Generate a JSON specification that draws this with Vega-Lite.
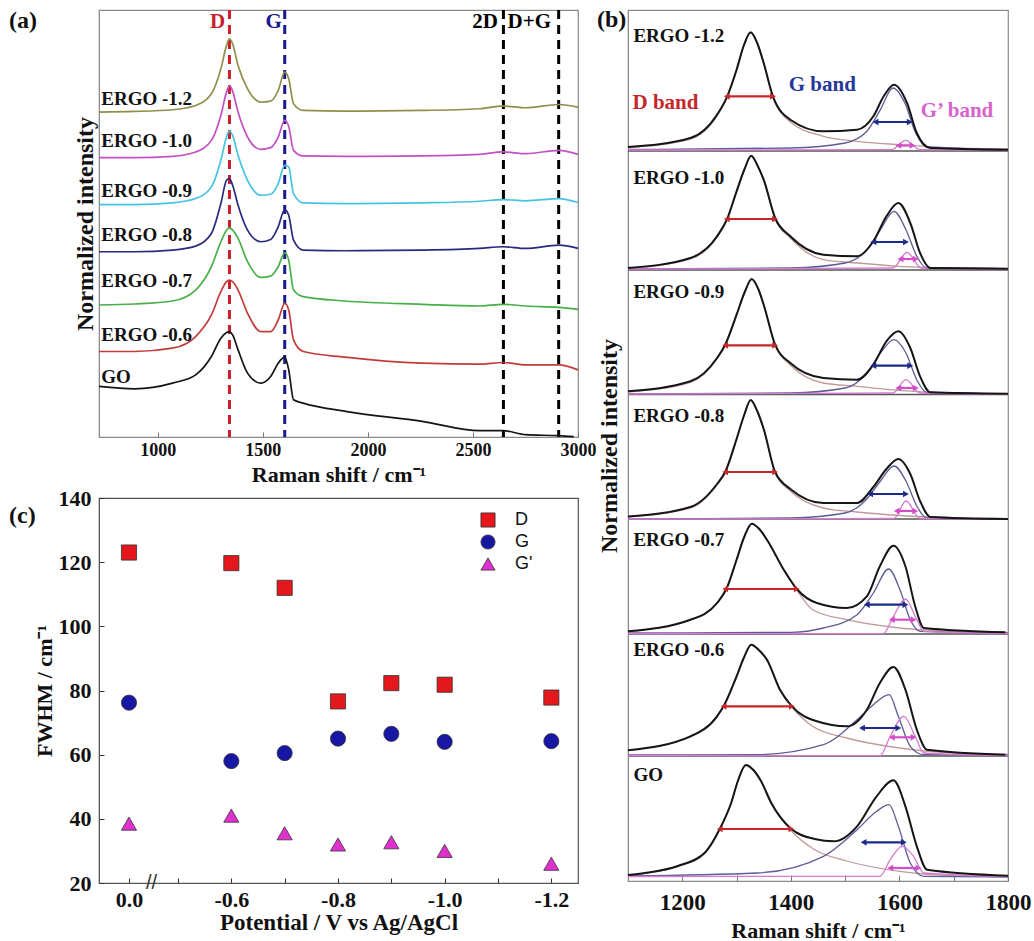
{
"$schema": "https://vega.github.io/schema/vega-lite/v6.json",
"padding": {"left": 8, "top": 7, "right": 0, "bottom": 0},
"background": "white",
"spacing": -1,
"resolve": {"scale": {"color": "independent", "shape": "independent"}},
"config": {
  "view": {"stroke": "#8a8a8a", "strokeWidth": 1.2},
  "axis": {"grid": false, "labelFont": "Liberation Serif", "labelFontWeight": "bold", "labelColor": "#111", "titleFont": "Liberation Serif", "titleFontWeight": "bold", "titleColor": "#111", "domainColor": "#8a8a8a", "tickColor": "#777"},
  "title": {"font": "Liberation Serif", "fontWeight": "bold", "fontSize": 24, "color": "#111"}
},
"datasets": {
  "alines": [
    {"s":"ERGO -1.2","x":720,"y":325.7},{"s":"ERGO -1.2","x":890,"y":326.3},{"s":"ERGO -1.2","x":1070,"y":328},{"s":"ERGO -1.2","x":1180,"y":332.3},{"s":"ERGO -1.2","x":1255,"y":344},{"s":"ERGO -1.2","x":1300,"y":369},{"s":"ERGO -1.2","x":1327,"y":392.3},{"s":"ERGO -1.2","x":1341,"y":399},{"s":"ERGO -1.2","x":1356,"y":394},{"s":"ERGO -1.2","x":1382,"y":372.3},{"s":"ERGO -1.2","x":1427,"y":349},{"s":"ERGO -1.2","x":1490,"y":335.7},{"s":"ERGO -1.2","x":1537,"y":336.7},{"s":"ERGO -1.2","x":1573,"y":347.3},{"s":"ERGO -1.2","x":1604,"y":365.7},{"s":"ERGO -1.2","x":1623,"y":359},{"s":"ERGO -1.2","x":1646,"y":334},{"s":"ERGO -1.2","x":1692,"y":327.3},{"s":"ERGO -1.2","x":1893,"y":326.7},{"s":"ERGO -1.2","x":2258,"y":327.3},{"s":"ERGO -1.2","x":2532,"y":329},{"s":"ERGO -1.2","x":2643,"y":331.7},{"s":"ERGO -1.2","x":2751,"y":330},{"s":"ERGO -1.2","x":2908,"y":333.3},{"s":"ERGO -1.2","x":3000,"y":330.7},
    {"s":"ERGO -1.0","x":720,"y":280},{"s":"ERGO -1.0","x":890,"y":280},{"s":"ERGO -1.0","x":1070,"y":281.3},{"s":"ERGO -1.0","x":1180,"y":285.7},{"s":"ERGO -1.0","x":1255,"y":297.3},{"s":"ERGO -1.0","x":1300,"y":322.3},{"s":"ERGO -1.0","x":1327,"y":345.7},{"s":"ERGO -1.0","x":1341,"y":352.3},{"s":"ERGO -1.0","x":1356,"y":346.7},{"s":"ERGO -1.0","x":1382,"y":325.7},{"s":"ERGO -1.0","x":1427,"y":300.7},{"s":"ERGO -1.0","x":1490,"y":288.3},{"s":"ERGO -1.0","x":1537,"y":290},{"s":"ERGO -1.0","x":1573,"y":300.7},{"s":"ERGO -1.0","x":1604,"y":317.3},{"s":"ERGO -1.0","x":1623,"y":311.3},{"s":"ERGO -1.0","x":1646,"y":287.3},{"s":"ERGO -1.0","x":1692,"y":281.7},{"s":"ERGO -1.0","x":1893,"y":281.3},{"s":"ERGO -1.0","x":2258,"y":281.7},{"s":"ERGO -1.0","x":2532,"y":283.3},{"s":"ERGO -1.0","x":2643,"y":285.7},{"s":"ERGO -1.0","x":2751,"y":284},{"s":"ERGO -1.0","x":2908,"y":287.3},{"s":"ERGO -1.0","x":3000,"y":283.3},
    {"s":"ERGO -0.9","x":720,"y":233},{"s":"ERGO -0.9","x":890,"y":233},{"s":"ERGO -0.9","x":1070,"y":234.7},{"s":"ERGO -0.9","x":1180,"y":239},{"s":"ERGO -0.9","x":1255,"y":250.7},{"s":"ERGO -0.9","x":1300,"y":277.3},{"s":"ERGO -0.9","x":1327,"y":300.7},{"s":"ERGO -0.9","x":1341,"y":306.7},{"s":"ERGO -0.9","x":1356,"y":302.3},{"s":"ERGO -0.9","x":1382,"y":282.3},{"s":"ERGO -0.9","x":1427,"y":257.3},{"s":"ERGO -0.9","x":1490,"y":242.3},{"s":"ERGO -0.9","x":1537,"y":243.3},{"s":"ERGO -0.9","x":1573,"y":254},{"s":"ERGO -0.9","x":1604,"y":272.3},{"s":"ERGO -0.9","x":1623,"y":270.7},{"s":"ERGO -0.9","x":1646,"y":244},{"s":"ERGO -0.9","x":1692,"y":234.7},{"s":"ERGO -0.9","x":1893,"y":234},{"s":"ERGO -0.9","x":2258,"y":234.7},{"s":"ERGO -0.9","x":2532,"y":236.3},{"s":"ERGO -0.9","x":2643,"y":238},{"s":"ERGO -0.9","x":2751,"y":236.7},{"s":"ERGO -0.9","x":2908,"y":239},{"s":"ERGO -0.9","x":3000,"y":235},
    {"s":"ERGO -0.8","x":720,"y":185.7},{"s":"ERGO -0.8","x":890,"y":185.7},{"s":"ERGO -0.8","x":1070,"y":187.3},{"s":"ERGO -0.8","x":1180,"y":191.3},{"s":"ERGO -0.8","x":1255,"y":204},{"s":"ERGO -0.8","x":1300,"y":234},{"s":"ERGO -0.8","x":1327,"y":257.3},{"s":"ERGO -0.8","x":1341,"y":259},{"s":"ERGO -0.8","x":1356,"y":252.3},{"s":"ERGO -0.8","x":1382,"y":232.3},{"s":"ERGO -0.8","x":1427,"y":207.3},{"s":"ERGO -0.8","x":1490,"y":195.7},{"s":"ERGO -0.8","x":1537,"y":198},{"s":"ERGO -0.8","x":1573,"y":210.7},{"s":"ERGO -0.8","x":1604,"y":228},{"s":"ERGO -0.8","x":1623,"y":222.3},{"s":"ERGO -0.8","x":1646,"y":197.3},{"s":"ERGO -0.8","x":1692,"y":187.3},{"s":"ERGO -0.8","x":1893,"y":186.7},{"s":"ERGO -0.8","x":2258,"y":187.3},{"s":"ERGO -0.8","x":2532,"y":189},{"s":"ERGO -0.8","x":2643,"y":190.7},{"s":"ERGO -0.8","x":2751,"y":189},{"s":"ERGO -0.8","x":2908,"y":192.3},{"s":"ERGO -0.8","x":3000,"y":189},
    {"s":"ERGO -0.7","x":720,"y":132.3},{"s":"ERGO -0.7","x":890,"y":133.3},{"s":"ERGO -0.7","x":1070,"y":136.3},{"s":"ERGO -0.7","x":1180,"y":147.3},{"s":"ERGO -0.7","x":1255,"y":170.7},{"s":"ERGO -0.7","x":1300,"y":195.7},{"s":"ERGO -0.7","x":1327,"y":207.3},{"s":"ERGO -0.7","x":1341,"y":209.7},{"s":"ERGO -0.7","x":1356,"y":207.3},{"s":"ERGO -0.7","x":1382,"y":199},{"s":"ERGO -0.7","x":1427,"y":175.7},{"s":"ERGO -0.7","x":1490,"y":160},{"s":"ERGO -0.7","x":1537,"y":161.3},{"s":"ERGO -0.7","x":1573,"y":170.7},{"s":"ERGO -0.7","x":1604,"y":184.7},{"s":"ERGO -0.7","x":1623,"y":177.3},{"s":"ERGO -0.7","x":1646,"y":147.3},{"s":"ERGO -0.7","x":1692,"y":140.7},{"s":"ERGO -0.7","x":1893,"y":136.3},{"s":"ERGO -0.7","x":2258,"y":133},{"s":"ERGO -0.7","x":2532,"y":131.3},{"s":"ERGO -0.7","x":2643,"y":133},{"s":"ERGO -0.7","x":2751,"y":131.3},{"s":"ERGO -0.7","x":2908,"y":130},{"s":"ERGO -0.7","x":3000,"y":128},
    {"s":"ERGO -0.6","x":720,"y":85.7},{"s":"ERGO -0.6","x":890,"y":85.7},{"s":"ERGO -0.6","x":1070,"y":89},{"s":"ERGO -0.6","x":1180,"y":100.7},{"s":"ERGO -0.6","x":1255,"y":122.3},{"s":"ERGO -0.6","x":1300,"y":145.7},{"s":"ERGO -0.6","x":1327,"y":155.7},{"s":"ERGO -0.6","x":1341,"y":157.3},{"s":"ERGO -0.6","x":1356,"y":155.7},{"s":"ERGO -0.6","x":1382,"y":147.3},{"s":"ERGO -0.6","x":1427,"y":124},{"s":"ERGO -0.6","x":1490,"y":105.7},{"s":"ERGO -0.6","x":1537,"y":105.7},{"s":"ERGO -0.6","x":1573,"y":117.3},{"s":"ERGO -0.6","x":1604,"y":134},{"s":"ERGO -0.6","x":1623,"y":127.3},{"s":"ERGO -0.6","x":1646,"y":97.3},{"s":"ERGO -0.6","x":1692,"y":85.7},{"s":"ERGO -0.6","x":1893,"y":80},{"s":"ERGO -0.6","x":2258,"y":74},{"s":"ERGO -0.6","x":2532,"y":73},{"s":"ERGO -0.6","x":2643,"y":74.7},{"s":"ERGO -0.6","x":2751,"y":72.3},{"s":"ERGO -0.6","x":2908,"y":72.3},{"s":"ERGO -0.6","x":3000,"y":67.3},
    {"s":"GO","x":720,"y":50.7},{"s":"GO","x":890,"y":48.3},{"s":"GO","x":1070,"y":54},{"s":"GO","x":1180,"y":62.3},{"s":"GO","x":1255,"y":80.7},{"s":"GO","x":1300,"y":99},{"s":"GO","x":1327,"y":104.7},{"s":"GO","x":1341,"y":105.7},{"s":"GO","x":1356,"y":102.3},{"s":"GO","x":1382,"y":87.3},{"s":"GO","x":1427,"y":64},{"s":"GO","x":1490,"y":54},{"s":"GO","x":1537,"y":60.7},{"s":"GO","x":1573,"y":74},{"s":"GO","x":1604,"y":80},{"s":"GO","x":1623,"y":67.3},{"s":"GO","x":1646,"y":37.3},{"s":"GO","x":1692,"y":34},{"s":"GO","x":1893,"y":25.7},{"s":"GO","x":2258,"y":15.7},{"s":"GO","x":2532,"y":6.3},{"s":"GO","x":2643,"y":6.3},{"s":"GO","x":2751,"y":2.3},{"s":"GO","x":2908,"y":1.3},{"s":"GO","x":2980,"y":0.3}
  ],
  "alabels": [
    {"t":"ERGO -1.2","x":731,"y":339},{"t":"ERGO -1.0","x":731,"y":297},{"t":"ERGO -0.9","x":731,"y":247},{"t":"ERGO -0.8","x":731,"y":202},{"t":"ERGO -0.7","x":731,"y":156},{"t":"ERGO -0.6","x":731,"y":102},{"t":"GO","x":731,"y":60}
  ],
  "vlines": [{"c":"D","x":1341},{"c":"G","x":1604},{"c":"2D","x":2645},{"c":"DG","x":2908}],
  "atop": [{"t":"D","c":"D","x":1285,"y":416},{"t":"G","c":"G","x":1551,"y":416},{"t":"2D","c":"2D","x":2558,"y":416},{"t":"D+G","c":"DG","x":2768,"y":416}],
  "fwhm": [
    {"pot":0,"w":123,"band":"D"},{"pot":-0.6,"w":119.7,"band":"D"},{"pot":-0.7,"w":112,"band":"D"},{"pot":-0.8,"w":76.6,"band":"D"},{"pot":-0.9,"w":82.3,"band":"D"},{"pot":-1.0,"w":81.8,"band":"D"},{"pot":-1.2,"w":77.8,"band":"D"},
    {"pot":0,"w":76.2,"band":"G"},{"pot":-0.6,"w":58,"band":"G"},{"pot":-0.7,"w":60.5,"band":"G"},{"pot":-0.8,"w":65,"band":"G"},{"pot":-0.9,"w":66.5,"band":"G"},{"pot":-1.0,"w":64,"band":"G"},{"pot":-1.2,"w":64.2,"band":"G"},
    {"pot":0,"w":38.5,"band":"G'"},{"pot":-0.6,"w":41,"band":"G'"},{"pot":-0.7,"w":35.5,"band":"G'"},{"pot":-0.8,"w":32,"band":"G'"},{"pot":-0.9,"w":32.7,"band":"G'"},{"pot":-1.0,"w":30,"band":"G'"},{"pot":-1.2,"w":26,"band":"G'"}
  ],
  "btotal": [
    {"p":"-1.2","x":1100,"y":732},{"p":"-1.2","x":1215,"y":741},{"p":"-1.2","x":1264,"y":764.3},{"p":"-1.2","x":1282,"y":781.7},{"p":"-1.2","x":1300,"y":809.3},{"p":"-1.2","x":1313,"y":833},{"p":"-1.2","x":1326,"y":846.7},{"p":"-1.2","x":1338,"y":836},{"p":"-1.2","x":1350,"y":816},{"p":"-1.2","x":1367,"y":782.7},{"p":"-1.2","x":1399,"y":759.3},{"p":"-1.2","x":1460,"y":747.7},{"p":"-1.2","x":1522,"y":749.3},{"p":"-1.2","x":1552,"y":762.7},{"p":"-1.2","x":1571,"y":782.7},{"p":"-1.2","x":1590,"y":794.3},{"p":"-1.2","x":1614,"y":776},{"p":"-1.2","x":1632,"y":746},{"p":"-1.2","x":1657,"y":731},{"p":"-1.2","x":1800,"y":729.3},
    {"p":"-1.0","x":1100,"y":611},{"p":"-1.0","x":1215,"y":621},{"p":"-1.0","x":1264,"y":642.7},{"p":"-1.0","x":1282,"y":659.3},{"p":"-1.0","x":1300,"y":687.7},{"p":"-1.0","x":1314,"y":709},{"p":"-1.0","x":1327,"y":723.3},{"p":"-1.0","x":1339,"y":713},{"p":"-1.0","x":1350,"y":699.3},{"p":"-1.0","x":1371,"y":661},{"p":"-1.0","x":1399,"y":642.7},{"p":"-1.0","x":1460,"y":624.3},{"p":"-1.0","x":1522,"y":622.7},{"p":"-1.0","x":1552,"y":637.7},{"p":"-1.0","x":1576,"y":662.7},{"p":"-1.0","x":1598,"y":676},{"p":"-1.0","x":1620,"y":656},{"p":"-1.0","x":1638,"y":626},{"p":"-1.0","x":1657,"y":611},{"p":"-1.0","x":1800,"y":610.3},
    {"p":"-0.9","x":1100,"y":487.7},{"p":"-0.9","x":1215,"y":497.7},{"p":"-0.9","x":1264,"y":521},{"p":"-0.9","x":1279,"y":534.3},{"p":"-0.9","x":1300,"y":564.3},{"p":"-0.9","x":1315,"y":587},{"p":"-0.9","x":1328,"y":600},{"p":"-0.9","x":1340,"y":590},{"p":"-0.9","x":1350,"y":574.3},{"p":"-0.9","x":1371,"y":534.3},{"p":"-0.9","x":1399,"y":516},{"p":"-0.9","x":1460,"y":501},{"p":"-0.9","x":1522,"y":499.3},{"p":"-0.9","x":1552,"y":514.3},{"p":"-0.9","x":1576,"y":537.7},{"p":"-0.9","x":1598,"y":547.7},{"p":"-0.9","x":1620,"y":531},{"p":"-0.9","x":1638,"y":502.7},{"p":"-0.9","x":1657,"y":486.7},{"p":"-0.9","x":1800,"y":485.3},
    {"p":"-0.8","x":1100,"y":362.5},{"p":"-0.8","x":1215,"y":372},{"p":"-0.8","x":1264,"y":395},{"p":"-0.8","x":1279,"y":407},{"p":"-0.8","x":1300,"y":440},{"p":"-0.8","x":1314,"y":464},{"p":"-0.8","x":1326,"y":479},{"p":"-0.8","x":1338,"y":468},{"p":"-0.8","x":1350,"y":450},{"p":"-0.8","x":1371,"y":407},{"p":"-0.8","x":1399,"y":390},{"p":"-0.8","x":1460,"y":376},{"p":"-0.8","x":1522,"y":376},{"p":"-0.8","x":1552,"y":392},{"p":"-0.8","x":1576,"y":410},{"p":"-0.8","x":1598,"y":420},{"p":"-0.8","x":1620,"y":405},{"p":"-0.8","x":1638,"y":378},{"p":"-0.8","x":1657,"y":362},{"p":"-0.8","x":1800,"y":360},
    {"p":"-0.7","x":1100,"y":247.7},{"p":"-0.7","x":1215,"y":259.3},{"p":"-0.7","x":1264,"y":276},{"p":"-0.7","x":1282,"y":291},{"p":"-0.7","x":1300,"y":319.3},{"p":"-0.7","x":1314,"y":342},{"p":"-0.7","x":1328,"y":355.3},{"p":"-0.7","x":1342,"y":350},{"p":"-0.7","x":1356,"y":339.3},{"p":"-0.7","x":1387,"y":309.3},{"p":"-0.7","x":1411,"y":290},{"p":"-0.7","x":1448,"y":276},{"p":"-0.7","x":1503,"y":271},{"p":"-0.7","x":1540,"y":282.7},{"p":"-0.7","x":1564,"y":312.7},{"p":"-0.7","x":1589,"y":333.3},{"p":"-0.7","x":1611,"y":312.7},{"p":"-0.7","x":1629,"y":272.7},{"p":"-0.7","x":1645,"y":251},{"p":"-0.7","x":1795,"y":246.7},
    {"p":"-0.6","x":1100,"y":128.7},{"p":"-0.6","x":1215,"y":142.7},{"p":"-0.6","x":1264,"y":162.7},{"p":"-0.6","x":1276,"y":172.7},{"p":"-0.6","x":1300,"y":202.7},{"p":"-0.6","x":1314,"y":222},{"p":"-0.6","x":1327,"y":234.3},{"p":"-0.6","x":1341,"y":229},{"p":"-0.6","x":1356,"y":219.3},{"p":"-0.6","x":1380,"y":189.3},{"p":"-0.6","x":1402,"y":172.7},{"p":"-0.6","x":1448,"y":157.7},{"p":"-0.6","x":1503,"y":152.7},{"p":"-0.6","x":1540,"y":169.3},{"p":"-0.6","x":1564,"y":196},{"p":"-0.6","x":1589,"y":212},{"p":"-0.6","x":1611,"y":189.3},{"p":"-0.6","x":1632,"y":149.3},{"p":"-0.6","x":1651,"y":129.3},{"p":"-0.6","x":1795,"y":124.3},
    {"p":"GO","x":1100,"y":4},{"p":"GO","x":1131,"y":6},{"p":"GO","x":1192,"y":13},{"p":"GO","x":1241,"y":26},{"p":"GO","x":1269,"y":50},{"p":"GO","x":1290,"y":76},{"p":"GO","x":1303,"y":99},{"p":"GO","x":1317,"y":114},{"p":"GO","x":1331,"y":109},{"p":"GO","x":1345,"y":98},{"p":"GO","x":1364,"y":76},{"p":"GO","x":1401,"y":50},{"p":"GO","x":1444,"y":40},{"p":"GO","x":1479,"y":37.7},{"p":"GO","x":1522,"y":52.7},{"p":"GO","x":1558,"y":82.7},{"p":"GO","x":1589,"y":98.7},{"p":"GO","x":1611,"y":72.7},{"p":"GO","x":1632,"y":32.7},{"p":"GO","x":1651,"y":9.3},{"p":"GO","x":1800,"y":3.3}
  ],
  "bcomp": [
    {"p":"-1.2","k":"D","x":1100,"y":731.5},{"p":"-1.2","k":"D","x":1215,"y":740},{"p":"-1.2","k":"D","x":1264,"y":763},{"p":"-1.2","k":"D","x":1282,"y":781},{"p":"-1.2","k":"D","x":1300,"y":808.5},{"p":"-1.2","k":"D","x":1313,"y":832.5},{"p":"-1.2","k":"D","x":1326,"y":846},{"p":"-1.2","k":"D","x":1338,"y":835.5},{"p":"-1.2","k":"D","x":1350,"y":815},{"p":"-1.2","k":"D","x":1367,"y":782},{"p":"-1.2","k":"D","x":1399,"y":757},{"p":"-1.2","k":"D","x":1460,"y":742.7},{"p":"-1.2","k":"D","x":1522,"y":737.7},{"p":"-1.2","k":"D","x":1600,"y":734.3},{"p":"-1.2","k":"D","x":1700,"y":731},{"p":"-1.2","k":"D","x":1800,"y":730},
    {"p":"-1.2","k":"G","x":1100,"y":729.5},{"p":"-1.2","k":"G","x":1400,"y":731},{"p":"-1.2","k":"G","x":1500,"y":736},{"p":"-1.2","k":"G","x":1540,"y":747.7},{"p":"-1.2","k":"G","x":1565,"y":769.3},{"p":"-1.2","k":"G","x":1588,"y":791},{"p":"-1.2","k":"G","x":1610,"y":776},{"p":"-1.2","k":"G","x":1630,"y":746},{"p":"-1.2","k":"G","x":1650,"y":732},{"p":"-1.2","k":"G","x":1800,"y":729.3},
    {"p":"-1.2","k":"Gp","x":1100,"y":729},{"p":"-1.2","k":"Gp","x":1585,"y":729.3},{"p":"-1.2","k":"Gp","x":1612,"y":738.7},{"p":"-1.2","k":"Gp","x":1638,"y":729.3},{"p":"-1.2","k":"Gp","x":1800,"y":729},
    {"p":"-1.0","k":"D","x":1100,"y":610.5},{"p":"-1.0","k":"D","x":1215,"y":620},{"p":"-1.0","k":"D","x":1264,"y":641.7},{"p":"-1.0","k":"D","x":1282,"y":658.5},{"p":"-1.0","k":"D","x":1300,"y":687},{"p":"-1.0","k":"D","x":1314,"y":708.5},{"p":"-1.0","k":"D","x":1327,"y":722.7},{"p":"-1.0","k":"D","x":1339,"y":712.5},{"p":"-1.0","k":"D","x":1350,"y":698.5},{"p":"-1.0","k":"D","x":1371,"y":660},{"p":"-1.0","k":"D","x":1399,"y":641},{"p":"-1.0","k":"D","x":1460,"y":619.3},{"p":"-1.0","k":"D","x":1522,"y":616},{"p":"-1.0","k":"D","x":1600,"y":612.7},{"p":"-1.0","k":"D","x":1700,"y":611},{"p":"-1.0","k":"D","x":1800,"y":610.3},
    {"p":"-1.0","k":"G","x":1100,"y":610.3},{"p":"-1.0","k":"G","x":1400,"y":611},{"p":"-1.0","k":"G","x":1500,"y":616},{"p":"-1.0","k":"G","x":1540,"y":629.3},{"p":"-1.0","k":"G","x":1565,"y":649.3},{"p":"-1.0","k":"G","x":1590,"y":667.7},{"p":"-1.0","k":"G","x":1612,"y":649.3},{"p":"-1.0","k":"G","x":1632,"y":622.7},{"p":"-1.0","k":"G","x":1650,"y":611},{"p":"-1.0","k":"G","x":1800,"y":610.3},
    {"p":"-1.0","k":"Gp","x":1100,"y":610},{"p":"-1.0","k":"Gp","x":1588,"y":611},{"p":"-1.0","k":"Gp","x":1614,"y":626.7},{"p":"-1.0","k":"Gp","x":1640,"y":611},{"p":"-1.0","k":"Gp","x":1800,"y":610},
    {"p":"-0.9","k":"D","x":1100,"y":487},{"p":"-0.9","k":"D","x":1215,"y":496.7},{"p":"-0.9","k":"D","x":1264,"y":520},{"p":"-0.9","k":"D","x":1279,"y":533.5},{"p":"-0.9","k":"D","x":1300,"y":563.5},{"p":"-0.9","k":"D","x":1315,"y":586.5},{"p":"-0.9","k":"D","x":1328,"y":599.4},{"p":"-0.9","k":"D","x":1340,"y":589.5},{"p":"-0.9","k":"D","x":1350,"y":573.5},{"p":"-0.9","k":"D","x":1371,"y":533.5},{"p":"-0.9","k":"D","x":1399,"y":514},{"p":"-0.9","k":"D","x":1460,"y":496},{"p":"-0.9","k":"D","x":1522,"y":492.7},{"p":"-0.9","k":"D","x":1600,"y":488.7},{"p":"-0.9","k":"D","x":1700,"y":486},{"p":"-0.9","k":"D","x":1800,"y":485.3},
    {"p":"-0.9","k":"G","x":1100,"y":485.3},{"p":"-0.9","k":"G","x":1400,"y":486},{"p":"-0.9","k":"G","x":1500,"y":491},{"p":"-0.9","k":"G","x":1540,"y":506},{"p":"-0.9","k":"G","x":1565,"y":526},{"p":"-0.9","k":"G","x":1590,"y":539.3},{"p":"-0.9","k":"G","x":1612,"y":526},{"p":"-0.9","k":"G","x":1632,"y":499.3},{"p":"-0.9","k":"G","x":1650,"y":486.7},{"p":"-0.9","k":"G","x":1800,"y":485.3},
    {"p":"-0.9","k":"Gp","x":1100,"y":485},{"p":"-0.9","k":"Gp","x":1588,"y":486},{"p":"-0.9","k":"Gp","x":1612,"y":499.3},{"p":"-0.9","k":"Gp","x":1638,"y":486},{"p":"-0.9","k":"Gp","x":1800,"y":485},
    {"p":"-0.8","k":"D","x":1100,"y":362},{"p":"-0.8","k":"D","x":1215,"y":371},{"p":"-0.8","k":"D","x":1264,"y":394},{"p":"-0.8","k":"D","x":1279,"y":406},{"p":"-0.8","k":"D","x":1300,"y":439.5},{"p":"-0.8","k":"D","x":1314,"y":463.5},{"p":"-0.8","k":"D","x":1326,"y":478.5},{"p":"-0.8","k":"D","x":1338,"y":467.5},{"p":"-0.8","k":"D","x":1350,"y":449.5},{"p":"-0.8","k":"D","x":1371,"y":406},{"p":"-0.8","k":"D","x":1399,"y":388},{"p":"-0.8","k":"D","x":1460,"y":371},{"p":"-0.8","k":"D","x":1522,"y":367},{"p":"-0.8","k":"D","x":1600,"y":363.5},{"p":"-0.8","k":"D","x":1700,"y":361},{"p":"-0.8","k":"D","x":1800,"y":360},
    {"p":"-0.8","k":"G","x":1100,"y":360},{"p":"-0.8","k":"G","x":1400,"y":361},{"p":"-0.8","k":"G","x":1500,"y":366},{"p":"-0.8","k":"G","x":1540,"y":380},{"p":"-0.8","k":"G","x":1565,"y":398},{"p":"-0.8","k":"G","x":1590,"y":413},{"p":"-0.8","k":"G","x":1612,"y":398},{"p":"-0.8","k":"G","x":1632,"y":373},{"p":"-0.8","k":"G","x":1650,"y":361},{"p":"-0.8","k":"G","x":1800,"y":360},
    {"p":"-0.8","k":"Gp","x":1100,"y":360},{"p":"-0.8","k":"Gp","x":1590,"y":360.5},{"p":"-0.8","k":"Gp","x":1612,"y":378},{"p":"-0.8","k":"Gp","x":1638,"y":360.5},{"p":"-0.8","k":"Gp","x":1800,"y":360},
    {"p":"-0.7","k":"D","x":1100,"y":247.5},{"p":"-0.7","k":"D","x":1215,"y":259},{"p":"-0.7","k":"D","x":1264,"y":275.5},{"p":"-0.7","k":"D","x":1282,"y":290.5},{"p":"-0.7","k":"D","x":1300,"y":318.8},{"p":"-0.7","k":"D","x":1314,"y":341.5},{"p":"-0.7","k":"D","x":1328,"y":354.8},{"p":"-0.7","k":"D","x":1342,"y":349.5},{"p":"-0.7","k":"D","x":1356,"y":338.8},{"p":"-0.7","k":"D","x":1387,"y":308.5},{"p":"-0.7","k":"D","x":1411,"y":289},{"p":"-0.7","k":"D","x":1440,"y":269.3},{"p":"-0.7","k":"D","x":1503,"y":259.3},{"p":"-0.7","k":"D","x":1600,"y":251},{"p":"-0.7","k":"D","x":1700,"y":247.7},{"p":"-0.7","k":"D","x":1800,"y":246.5},
    {"p":"-0.7","k":"G","x":1100,"y":246},{"p":"-0.7","k":"G","x":1400,"y":246.7},{"p":"-0.7","k":"G","x":1460,"y":251},{"p":"-0.7","k":"G","x":1522,"y":264.3},{"p":"-0.7","k":"G","x":1552,"y":286},{"p":"-0.7","k":"G","x":1580,"y":310},{"p":"-0.7","k":"G","x":1601,"y":289.3},{"p":"-0.7","k":"G","x":1620,"y":259.3},{"p":"-0.7","k":"G","x":1638,"y":247.7},{"p":"-0.7","k":"G","x":1800,"y":246},
    {"p":"-0.7","k":"Gp","x":1100,"y":245.5},{"p":"-0.7","k":"Gp","x":1570,"y":245.3},{"p":"-0.7","k":"Gp","x":1589,"y":262.7},{"p":"-0.7","k":"Gp","x":1611,"y":280},{"p":"-0.7","k":"Gp","x":1632,"y":259.3},{"p":"-0.7","k":"Gp","x":1645,"y":247.7},{"p":"-0.7","k":"Gp","x":1800,"y":245.5},
    {"p":"-0.6","k":"D","x":1100,"y":128.5},{"p":"-0.6","k":"D","x":1215,"y":142.2},{"p":"-0.6","k":"D","x":1264,"y":162.2},{"p":"-0.6","k":"D","x":1276,"y":172.2},{"p":"-0.6","k":"D","x":1300,"y":202.2},{"p":"-0.6","k":"D","x":1314,"y":221.5},{"p":"-0.6","k":"D","x":1327,"y":233.8},{"p":"-0.6","k":"D","x":1341,"y":228.5},{"p":"-0.6","k":"D","x":1356,"y":218.8},{"p":"-0.6","k":"D","x":1380,"y":188.8},{"p":"-0.6","k":"D","x":1402,"y":172},{"p":"-0.6","k":"D","x":1440,"y":152.7},{"p":"-0.6","k":"D","x":1503,"y":141},{"p":"-0.6","k":"D","x":1600,"y":131},{"p":"-0.6","k":"D","x":1700,"y":126},{"p":"-0.6","k":"D","x":1800,"y":124.5},
    {"p":"-0.6","k":"G","x":1100,"y":124},{"p":"-0.6","k":"G","x":1338,"y":124.3},{"p":"-0.6","k":"G","x":1460,"y":134.3},{"p":"-0.6","k":"G","x":1522,"y":159.3},{"p":"-0.6","k":"G","x":1552,"y":174.3},{"p":"-0.6","k":"G","x":1581,"y":184.3},{"p":"-0.6","k":"G","x":1598,"y":162.7},{"p":"-0.6","k":"G","x":1620,"y":132.7},{"p":"-0.6","k":"G","x":1645,"y":124.3},{"p":"-0.6","k":"G","x":1800,"y":124},
    {"p":"-0.6","k":"Gp","x":1100,"y":123.5},{"p":"-0.6","k":"Gp","x":1564,"y":123.3},{"p":"-0.6","k":"Gp","x":1583,"y":142.7},{"p":"-0.6","k":"Gp","x":1608,"y":162.7},{"p":"-0.6","k":"Gp","x":1629,"y":142.7},{"p":"-0.6","k":"Gp","x":1645,"y":126},{"p":"-0.6","k":"Gp","x":1800,"y":123.5},
    {"p":"GO","k":"D","x":1100,"y":3.5},{"p":"GO","k":"D","x":1131,"y":5.5},{"p":"GO","k":"D","x":1192,"y":12.5},{"p":"GO","k":"D","x":1241,"y":25.5},{"p":"GO","k":"D","x":1269,"y":49.5},{"p":"GO","k":"D","x":1290,"y":75.5},{"p":"GO","k":"D","x":1303,"y":98.5},{"p":"GO","k":"D","x":1317,"y":113.5},{"p":"GO","k":"D","x":1331,"y":108.5},{"p":"GO","k":"D","x":1345,"y":97.5},{"p":"GO","k":"D","x":1364,"y":75},{"p":"GO","k":"D","x":1401,"y":48},{"p":"GO","k":"D","x":1444,"y":29.3},{"p":"GO","k":"D","x":1503,"y":18},{"p":"GO","k":"D","x":1600,"y":7.7},{"p":"GO","k":"D","x":1700,"y":3.3},{"p":"GO","k":"D","x":1800,"y":2.5},
    {"p":"GO","k":"G","x":1100,"y":3},{"p":"GO","k":"G","x":1338,"y":6},{"p":"GO","k":"G","x":1460,"y":22.7},{"p":"GO","k":"G","x":1522,"y":49.3},{"p":"GO","k":"G","x":1558,"y":67.7},{"p":"GO","k":"G","x":1581,"y":74.3},{"p":"GO","k":"G","x":1598,"y":52.7},{"p":"GO","k":"G","x":1620,"y":16},{"p":"GO","k":"G","x":1645,"y":2.7},{"p":"GO","k":"G","x":1800,"y":2},
    {"p":"GO","k":"Gp","x":1100,"y":2.5},{"p":"GO","k":"Gp","x":1564,"y":2.7},{"p":"GO","k":"Gp","x":1583,"y":19.3},{"p":"GO","k":"Gp","x":1605,"y":32.7},{"p":"GO","k":"Gp","x":1626,"y":22.7},{"p":"GO","k":"Gp","x":1645,"y":6},{"p":"GO","k":"Gp","x":1800,"y":2.5}
  ],
  "barrows": [
    {"p":"-1.2","b":"D","x1":1282,"x2":1367,"y":782.7},{"p":"-1.2","b":"G","x1":1556,"x2":1619,"y":757},{"p":"-1.2","b":"Gp","x1":1598,"x2":1624,"y":733.5},
    {"p":"-1.0","b":"D","x1":1282,"x2":1371,"y":660},{"p":"-1.0","b":"G","x1":1552,"x2":1612,"y":637},{"p":"-1.0","b":"Gp","x1":1602,"x2":1630,"y":620},
    {"p":"-0.9","b":"D","x1":1279,"x2":1371,"y":533.7},{"p":"-0.9","b":"G","x1":1552,"x2":1620,"y":513.3},{"p":"-0.9","b":"Gp","x1":1598,"x2":1630,"y":491},
    {"p":"-0.8","b":"D","x1":1279,"x2":1371,"y":407},{"p":"-0.8","b":"G","x1":1546,"x2":1612,"y":385},{"p":"-0.8","b":"Gp","x1":1595,"x2":1629,"y":368},
    {"p":"-0.7","b":"D","x1":1279,"x2":1411,"y":290},{"p":"-0.7","b":"G","x1":1540,"x2":1611,"y":274.3},{"p":"-0.7","b":"Gp","x1":1586,"x2":1626,"y":259.3},
    {"p":"-0.6","b":"D","x1":1276,"x2":1402,"y":172.7},{"p":"-0.6","b":"G","x1":1531,"x2":1598,"y":151},{"p":"-0.6","b":"Gp","x1":1586,"x2":1626,"y":141.7},
    {"p":"GO","b":"D","x1":1269,"x2":1401,"y":50},{"p":"GO","b":"G","x1":1534,"x2":1608,"y":36.7},{"p":"GO","b":"Gp","x1":1583,"x2":1635,"y":11}
  ],
  "blabels": [
    {"t":"ERGO -1.2","x":1110,"y":842.7},{"t":"ERGO -1.0","x":1110,"y":701},{"t":"ERGO -0.9","x":1110,"y":586.7},{"t":"ERGO -0.8","x":1110,"y":462.7},{"t":"ERGO -0.7","x":1110,"y":339.3},{"t":"ERGO -0.6","x":1110,"y":229.3},{"t":"GO","x":1110,"y":104.3}
  ],
  "bbands": [{"t":"D band","b":"D","x":1169,"y":776},{"t":"G band","b":"G","x":1458,"y":794},{"t":"G’ band","b":"Gp","x":1706,"y":768}],
  "bdiv": [{"y":728},{"y":609},{"y":484.5},{"y":360},{"y":245},{"y":123}]
},
"hconcat": [
  {
    "vconcat": [
      {
        "width": 479, "height": 427,
        "title": {"text": "(a)", "anchor": "start", "frame": "group", "orient": "top", "dx": -90, "dy": 28, "fontSize": 24},
        "layer": [
          {"data": {"name": "vlines"}, "mark": {"type": "rule", "strokeDash": [9, 6], "strokeWidth": 3},
           "encoding": {
             "x": {"field": "x", "type": "quantitative", "scale": {"domain": [720, 3000], "nice": false, "zero": false}},
             "color": {"field": "c", "type": "nominal", "scale": {"domain": ["D", "G", "2D", "DG"], "range": ["#c8202a", "#1a1a8c", "#000000", "#000000"]}, "legend": null}}},
          {"data": {"name": "alines"}, "mark": {"type": "line", "strokeWidth": 1.7, "interpolate": "monotone"},
           "encoding": {
             "x": {"field": "x", "type": "quantitative", "scale": {"domain": [720, 3000], "nice": false, "zero": false},
                   "axis": {"values": [1000, 1500, 2000, 2500, 3000], "format": "d", "labelFlush": false, "title": "Raman shift / cm⁻¹", "labelFontSize": 18, "titleFontSize": 22, "tickSize": -5, "labelPadding": 9, "titlePadding": 5}},
             "y": {"field": "y", "type": "quantitative", "scale": {"domain": [0, 428], "nice": false, "zero": false},
                   "axis": {"title": "Normalized intensity", "labels": false, "ticks": false, "titleFontSize": 24, "titlePadding": 2}},
             "color": {"field": "s", "type": "nominal", "scale": {"domain": ["ERGO -1.2", "ERGO -1.0", "ERGO -0.9", "ERGO -0.8", "ERGO -0.7", "ERGO -0.6", "GO"], "range": ["#8f8f4a", "#c450c4", "#45c3e0", "#2a2a7e", "#48b048", "#c23c3c", "#151515"]}, "legend": null}}},
          {"data": {"name": "alabels"}, "mark": {"type": "text", "align": "left", "baseline": "middle", "font": "Liberation Serif", "fontWeight": "bold", "fontSize": 19, "color": "#111"},
           "encoding": {
             "x": {"field": "x", "type": "quantitative", "scale": {"domain": [720, 3000], "nice": false, "zero": false}},
             "y": {"field": "y", "type": "quantitative", "scale": {"domain": [0, 428], "nice": false, "zero": false}},
             "text": {"field": "t"}}},
          {"data": {"name": "atop"}, "mark": {"type": "text", "align": "center", "baseline": "middle", "font": "Liberation Serif", "fontWeight": "bold", "fontSize": 21},
           "encoding": {
             "x": {"field": "x", "type": "quantitative", "scale": {"domain": [720, 3000], "nice": false, "zero": false}},
             "y": {"field": "y", "type": "quantitative", "scale": {"domain": [0, 428], "nice": false, "zero": false}},
             "text": {"field": "t"},
             "color": {"field": "c", "type": "nominal", "scale": {"domain": ["D", "G", "2D", "DG"], "range": ["#c8202a", "#1a1a8c", "#000000", "#000000"]}, "legend": null}}}
        ],
        "resolve": {"scale": {"color": "independent"}}
      },
      {
        "width": 479, "height": 385,
        "view": {"stroke": "#555"},
        "title": {"text": "(c)", "anchor": "start", "frame": "group", "orient": "top", "dx": -90, "dy": 45, "fontSize": 24},
        "layer": [
          {"data": {"name": "fwhm"}, "mark": {"type": "point", "filled": true, "opacity": 1, "size": 230, "stroke": "#333", "strokeWidth": 0.8},
           "encoding": {
             "x": {"field": "pot", "type": "quantitative", "scale": {"domain": [0.056, 0, -0.5, -1.25], "range": [0, 30, 79, 479], "nice": false, "zero": false},
                   "axis": {"values": [0, -0.5, -0.6, -0.7, -0.8, -0.9, -1, -1.1, -1.2], "labelExpr": "datum.value == 0 ? '0.0' : (indexof([-0.6, -0.8, -1, -1.2], datum.value) >= 0 ? '-' + format(-datum.value, '.1f') : '')", "title": "Potential / V vs Ag/AgCl", "labelFontSize": 22, "titleFontSize": 23, "tickSize": -5, "labelPadding": 11, "titlePadding": 1, "domainColor": "#555", "tickColor": "#333"}},
             "y": {"field": "w", "type": "quantitative", "scale": {"domain": [20, 140], "nice": false, "zero": false},
                   "axis": {"values": [20, 30, 40, 50, 60, 70, 80, 90, 100, 110, 120, 130, 140], "labelExpr": "datum.value % 20 == 0 ? '' + datum.value : ''", "title": "FWHM / cm⁻¹", "labelFontSize": 22, "titleFontSize": 22, "tickSize": -5, "labelPadding": 13, "titlePadding": 2, "domainColor": "#555", "tickColor": "#333"}},
             "color": {"field": "band", "type": "nominal", "scale": {"domain": ["D", "G", "G'"], "range": ["#e3171c", "#1717a3", "#e030d0"]},
                       "legend": {"title": null, "orient": "none", "legendX": 380, "legendY": 13, "labelFont": "Liberation Sans", "labelFontSize": 18, "labelColor": "#111", "symbolSize": 200, "symbolStrokeWidth": 0.8, "symbolStrokeColor": "#333", "rowPadding": 4, "labelOffset": 18}},
             "shape": {"field": "band", "type": "nominal", "scale": {"domain": ["D", "G", "G'"], "range": ["square", "circle", "triangle-up"]}}}},
          {"data": {"values": [{"x": -0.23, "y": 20, "t": "//"}]}, "mark": {"type": "text", "fontSize": 20, "font": "Liberation Sans", "baseline": "middle", "align": "center", "color": "#333"},
           "encoding": {
             "x": {"field": "x", "type": "quantitative", "scale": {"domain": [0.056, 0, -0.5, -1.25], "range": [0, 30, 79, 479], "nice": false, "zero": false}},
             "y": {"field": "y", "type": "quantitative", "scale": {"domain": [20, 140], "nice": false, "zero": false}},
             "text": {"field": "t"}}}
        ]
      }
    ],
    "spacing": 0,
    "resolve": {"scale": {"color": "independent", "shape": "independent"}}
  },
  {
    "width": 380, "height": 871,
    "title": {"text": "(b)", "anchor": "start", "frame": "group", "orient": "top", "dx": -31, "dy": 26, "fontSize": 24},
    "layer": [
      {"data": {"name": "bdiv"}, "mark": {"type": "rule", "color": "#555", "strokeWidth": 1.3},
       "encoding": {"y": {"field": "y", "type": "quantitative", "scale": {"domain": [-2, 869], "nice": false, "zero": false}}}},
      {"data": {"name": "bcomp"}, "mark": {"type": "line", "strokeWidth": 1.3, "interpolate": "monotone"},
       "encoding": {
         "x": {"field": "x", "type": "quantitative", "scale": {"domain": [1100, 1800], "nice": false, "zero": false}},
         "y": {"field": "y", "type": "quantitative", "scale": {"domain": [-2, 869], "nice": false, "zero": false}},
         "detail": {"field": "p"},
         "color": {"field": "k", "type": "nominal", "scale": {"domain": ["D", "G", "Gp"], "range": ["#c09a9a", "#5c5c96", "#d77ad0"]}, "legend": null}}},
      {"data": {"name": "btotal"}, "mark": {"type": "line", "strokeWidth": 2, "color": "#151515", "interpolate": "monotone"},
       "encoding": {
         "x": {"field": "x", "type": "quantitative", "scale": {"domain": [1100, 1800], "nice": false, "zero": false},
               "axis": {"values": [1200, 1300, 1400, 1500, 1600, 1700, 1800], "labelExpr": "datum.value % 200 == 0 ? '' + datum.value : ''", "labelFlush": false, "title": "Raman shift / cm⁻¹", "labelFontSize": 23, "titleFontSize": 22, "tickSize": -6, "labelPadding": 16, "titlePadding": 6}},
         "y": {"field": "y", "type": "quantitative", "scale": {"domain": [-2, 869], "nice": false, "zero": false},
               "axis": {"title": "Normalized intensity", "labels": false, "ticks": false, "titleFontSize": 24, "titlePadding": 7}},
         "detail": {"field": "p"}}},
      {"data": {"name": "barrows"}, "mark": {"type": "rule", "strokeWidth": 2.2},
       "encoding": {
         "x": {"field": "x1", "type": "quantitative", "scale": {"domain": [1100, 1800], "nice": false, "zero": false}},
         "x2": {"field": "x2"},
         "y": {"field": "y", "type": "quantitative", "scale": {"domain": [-2, 869], "nice": false, "zero": false}},
         "color": {"field": "b", "type": "nominal", "scale": {"domain": ["D", "G", "Gp"], "range": ["#c4282a", "#1c2a88", "#d24ec8"]}, "legend": null}}},
      {"data": {"name": "barrows"}, "mark": {"type": "point", "shape": "triangle-left", "filled": true, "opacity": 1, "size": 45},
       "encoding": {
         "x": {"field": "x1", "type": "quantitative", "scale": {"domain": [1100, 1800], "nice": false, "zero": false}},
         "y": {"field": "y", "type": "quantitative", "scale": {"domain": [-2, 869], "nice": false, "zero": false}},
         "color": {"field": "b", "type": "nominal", "scale": {"domain": ["D", "G", "Gp"], "range": ["#c4282a", "#1c2a88", "#d24ec8"]}, "legend": null}}},
      {"data": {"name": "barrows"}, "mark": {"type": "point", "shape": "triangle-right", "filled": true, "opacity": 1, "size": 45},
       "encoding": {
         "x": {"field": "x2", "type": "quantitative", "scale": {"domain": [1100, 1800], "nice": false, "zero": false}},
         "y": {"field": "y", "type": "quantitative", "scale": {"domain": [-2, 869], "nice": false, "zero": false}},
         "color": {"field": "b", "type": "nominal", "scale": {"domain": ["D", "G", "Gp"], "range": ["#c4282a", "#1c2a88", "#d24ec8"]}, "legend": null}}},
      {"data": {"name": "blabels"}, "mark": {"type": "text", "align": "left", "baseline": "middle", "font": "Liberation Serif", "fontWeight": "bold", "fontSize": 19, "color": "#111"},
       "encoding": {
         "x": {"field": "x", "type": "quantitative", "scale": {"domain": [1100, 1800], "nice": false, "zero": false}},
         "y": {"field": "y", "type": "quantitative", "scale": {"domain": [-2, 869], "nice": false, "zero": false}},
         "text": {"field": "t"}}},
      {"data": {"name": "bbands"}, "mark": {"type": "text", "align": "center", "baseline": "middle", "font": "Liberation Serif", "fontWeight": "bold", "fontSize": 21},
       "encoding": {
         "x": {"field": "x", "type": "quantitative", "scale": {"domain": [1100, 1800], "nice": false, "zero": false}},
         "y": {"field": "y", "type": "quantitative", "scale": {"domain": [-2, 869], "nice": false, "zero": false}},
         "text": {"field": "t"},
         "color": {"field": "b", "type": "nominal", "scale": {"domain": ["D", "G", "Gp"], "range": ["#c4282a", "#26379a", "#d664cc"]}, "legend": null}}}
    ],
    "resolve": {"scale": {"color": "independent"}}
  }
]
}
